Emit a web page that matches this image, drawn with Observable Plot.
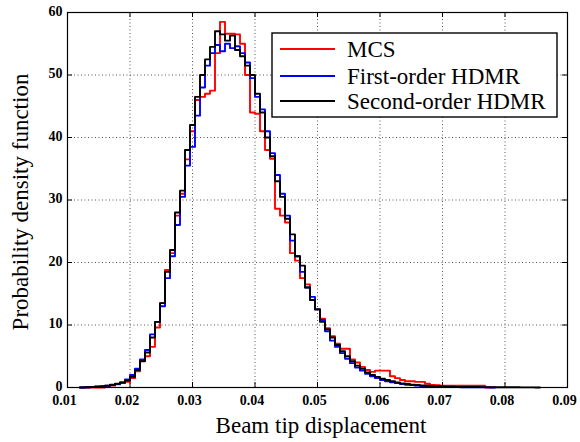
<!DOCTYPE html>
<html><head><meta charset="utf-8">
<script src="https://cdn.jsdelivr.net/npm/d3@7"></script>
<script src="https://cdn.jsdelivr.net/npm/@observablehq/plot@0.6"></script>
<style>body{margin:0;background:#fff}</style>
</head><body><div id="chart"></div>
<script>
const binStart = 0.012;
const binWidth = 0.0008;
const seriesNames = ["MCS", "First-order HDMR", "Second-order HDMR"];
const seriesColors = ["#ff0000", "#0000ff", "#000000"];
const mcs = [0, 0, 0, 0, 0, 0.1, 0.3, 0.5, 0.7, 0.9,
 1.5, 2.6, 4.3, 5.0, 6.5, 9.6, 13.5, 18.8, 21.5, 27.5,
 31, 36.5, 41, 46, 46.5, 47, 47.5, 53.5, 58.5, 56.6,
 56.6, 56.5, 55, 50, 44, 43.8, 41, 38, 36.6, 28.6,
 27.5, 26.4, 21.5, 20.3, 17.5, 16.5, 14, 12.5, 11, 9.5,
 8.2, 7, 6.2, 6.2, 4.5, 4, 3.3, 2.8, 2.5, 2.7,
 2.7, 2.7, 1.8, 1.5, 1.2, 1.0, 1.0, 0.9, 0.9, 0.6,
 0.4, 0.35, 0.3, 0.3, 0.3, 0.3, 0.3, 0.3, 0.3, 0.3,
 0.3, 0];
const firstOrder = [0, 0.03, 0.08, 0.12, 0.18, 0.28, 0.4, 0.55, 0.8, 1.3,
 2.0, 3.0, 4.5, 6.0, 8.5, 10.5, 13, 17.5, 21, 26,
 30.5, 35.5, 38.5, 43.5, 48, 51.5, 53.5, 54.8, 53.8, 55,
 54.3, 54.6, 53.5, 52, 49.5, 46.5, 44.5, 41, 37.5, 34,
 31, 27.5, 23.5, 21, 18.5, 16, 14.5, 12.5, 10.8, 9,
 7.5, 6.5, 5.5, 4.6, 3.9, 3.2, 2.7, 2.2, 1.8, 1.5,
 1.2, 1.0, 0.85, 0.7, 0.55, 0.45, 0.38, 0.3, 0.25, 0.2,
 0.16, 0.13, 0.1, 0.08, 0.07, 0.06, 0.05, 0.04, 0.03, 0.03,
 0.02, 0.02, 0];
const secondOrder = [0, 0.05, 0.1, 0.15, 0.2, 0.3, 0.45, 0.6, 0.8, 1.1,
 1.7, 2.8, 4.2, 5.6, 8.0, 10.5, 13.5, 18.5, 22, 28,
 31.5, 38, 42, 46.5, 50, 52.5, 54.5, 57, 56.5, 55.5,
 56.3, 54, 53, 51.5, 50, 47, 44, 40, 37, 33,
 30.5, 27, 24.5, 21, 19.5, 16, 14, 12.5, 10.5, 9.3,
 8, 6.8, 5.8, 5, 4.2, 3.5, 3.0, 2.4, 2.0, 1.7,
 1.4, 1.2, 1.0, 0.8, 0.65, 0.55, 0.45, 0.4, 0.32, 0.27,
 0.22, 0.18, 0.15, 0.13, 0.11, 0.1, 0.09, 0.08, 0.07, 0.07,
 0.06, 0.06, 0.05, 0.05, 0.04, 0.04, 0.03, 0.03, 0.02, 0.02,
 0.02, 0];
const xTicks = [0.01, 0.02, 0.03, 0.04, 0.05, 0.06, 0.07, 0.08, 0.09];
const yTicks = [0, 10, 20, 30, 40, 50, 60];
const xLabel = "Beam tip displacement";
const yLabel = "Probability density function";

function steps(values, name) {
  const pts = [];
  values.forEach((v, i) => {
    const x0 = binStart + i * binWidth;
    pts.push({x: x0, y: v, series: name}, {x: x0 + binWidth, y: v, series: name});
  });
  return pts;
}
const allSeries = [mcs, firstOrder, secondOrder];

const W = 580, H = 442, mL = 67, mR = 13, mT = 12, mB = 55;
const innerW = W - mL - mR, innerH = H - mT - mB, tickLen = 5;
const gridStyle = {stroke: "#555", strokeOpacity: 1, strokeDasharray: "1,2.5", strokeWidth: 1};
const font = '"Liberation Serif", serif';

const plot = Plot.plot({
  width: W, height: H,
  marginLeft: mL, marginRight: mR, marginTop: mT, marginBottom: mB,
  style: {fontFamily: font, fontSize: "14px", background: "#fff", color: "#000"},
  x: {domain: [0.01, 0.09], label: null},
  y: {domain: [0, 60], label: null},
  marks: [
    Plot.gridX(xTicks, gridStyle),
    Plot.gridY(yTicks, gridStyle),
    Plot.ruleX(xTicks, {insetTop: innerH - tickLen, stroke: "#000"}),
    Plot.ruleX(xTicks, {insetBottom: innerH - tickLen, stroke: "#000"}),
    Plot.ruleY(yTicks, {insetRight: innerW - tickLen, stroke: "#000"}),
    Plot.ruleY(yTicks, {insetLeft: innerW - tickLen, stroke: "#000"}),
    ...allSeries.map((s, k) => Plot.line(steps(s, seriesNames[k]), {x: "x", y: "y", stroke: seriesColors[k], strokeWidth: 1.9})),
    Plot.frame({stroke: "#000", strokeWidth: 1.2}),
    Plot.axisX(xTicks, {tickSize: 0, tickPadding: 8, tickFormat: d3.format(".2f"), dx: -3, label: null, fontSize: 14, fontWeight: 600}),
    Plot.axisY(yTicks, {tickSize: 0, tickPadding: 5, dy: -1, label: null, fontSize: 14, fontWeight: 600})
  ]
});
document.getElementById("chart").appendChild(plot);

const svg = d3.select(plot);
svg.append("text").attr("x", 321).attr("y", 433).attr("text-anchor", "middle")
  .style("font-size", "23px").style("font-family", font).attr("fill", "#000").text(xLabel);
svg.append("text").attr("transform", "translate(28,202) rotate(-90)").attr("text-anchor", "middle")
  .style("font-size", "23px").style("font-family", font).attr("fill", "#000").text(yLabel);

const leg = svg.append("g");
leg.append("rect").attr("x", 272).attr("y", 33).attr("width", 285).attr("height", 84)
  .attr("fill", "#fff").attr("stroke", "#000").attr("stroke-width", 1.4);
const rowY = [49, 76, 101];
seriesNames.forEach((name, k) => {
  leg.append("line").attr("x1", 280).attr("x2", 335).attr("y1", rowY[k]).attr("y2", rowY[k])
    .attr("stroke", seriesColors[k]).attr("stroke-width", 2);
  leg.append("text").attr("x", 347).attr("y", rowY[k] + 8).attr("text-anchor", "start")
    .style("font-size", "23px").style("font-family", font).attr("fill", "#000").text(name);
});
</script>
</body></html>
